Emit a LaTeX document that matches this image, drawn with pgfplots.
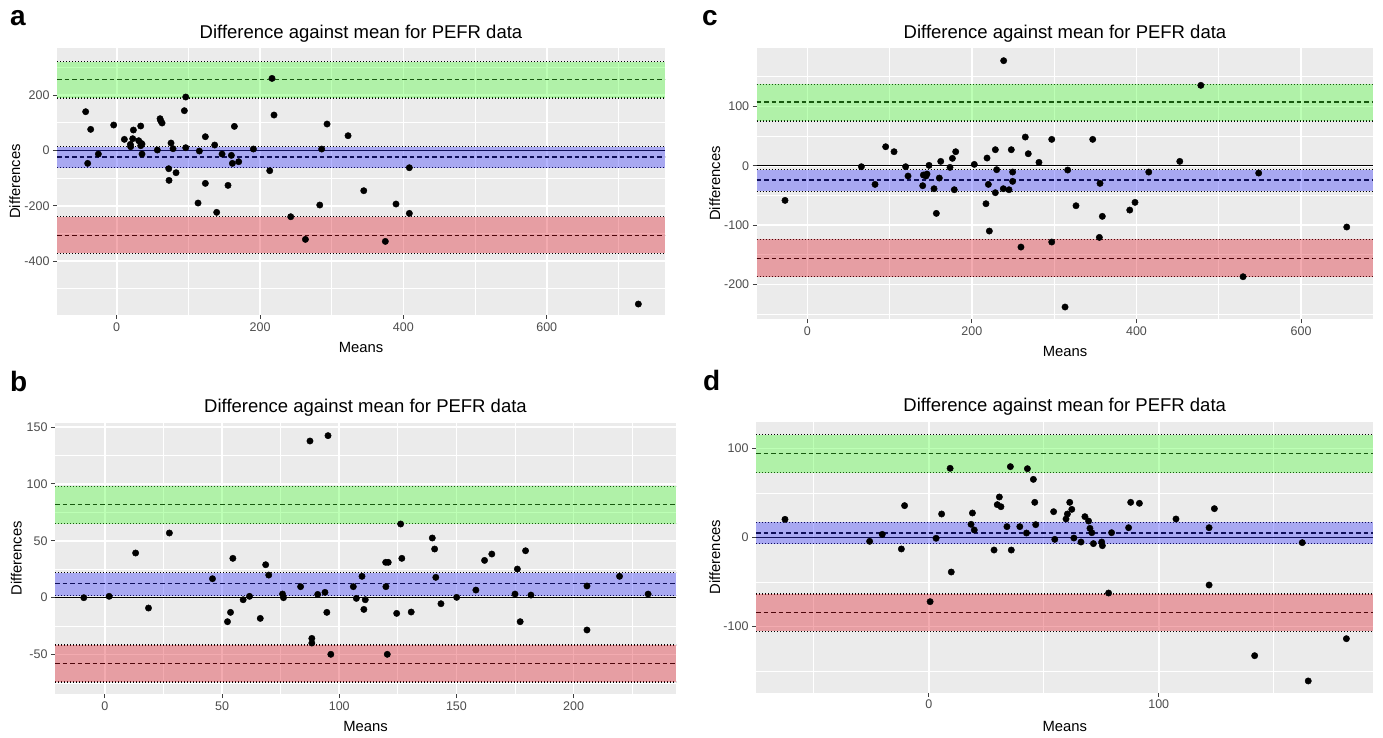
\documentclass[border=0pt]{standalone}
\usepackage{fontspec}
\setmainfont{Liberation Sans}
\usepackage{pgfplots}
\pgfplotsset{compat=1.18}

\definecolor{ggbg}{HTML}{EBEBEB}
\definecolor{ggtick}{HTML}{4D4D4D}
\definecolor{bandgreen}{RGB}{66,255,44}
\definecolor{bandblue}{RGB}{44,44,255}
\definecolor{bandred}{RGB}{221,15,29}

\pgfplotsset{
  gg/.style={
    scale only axis,
    axis background/.style={fill=ggbg},
    axis x line*=bottom, axis y line*=left,
    axis line style={draw=none},
    tick align=outside,
    major tick length=4pt, minor tick length=0pt,
    tick style={black!75, line width=1pt},
    grid=both,
    major grid style={white, line width=1.6pt},
    minor grid style={white, line width=0.8pt},
    ticklabel style={font=\fontsize{12.5}{14}\selectfont, text=ggtick},
  },
  band/.style={draw=none, fill=#1, fill opacity=0.35},
  mean/.style={black, line width=1.15pt, dash pattern=on 4.5pt off 3pt},
  lim/.style={black, line width=1.3pt, dash pattern=on 1.2pt off 1.8pt},
  zero/.style={black, line width=1pt},
  pts/.style={only marks, mark=*, mark size=3.2pt, black},
}

\newcommand{\titlefont}{\fontsize{18.5}{20}\selectfont}
\newcommand{\labfont}{\fontsize{14.8}{16}\selectfont}
\newcommand{\letfont}{\fontsize{28}{30}\selectfont\bfseries}

\begin{document}
\begin{tikzpicture}
\path (0pt,0pt) rectangle (1383pt,737pt);

% ---- a ----
\begin{axis}[gg, at={(57pt,422pt)}, anchor=south west, width=608pt, height=267pt,
  xmin=-83.3, xmax=765, ymin=-595, ymax=370,
  xtick={0,200,400,600}, xticklabels={0,200,400,600}, minor xtick={100,300,500,700},
  ytick={-400,-200,0,200}, yticklabels={-400,-200,0,200}, minor ytick={-500,-300,-100,100,300}]
\addplot[pts] table {
-43.3 139.8
-40.5 -47
-36.3 75.9
-25.6 -13.3
-4.2 91.6
10.7 39.8
19.1 21.7
19.5 13.3
23.3 73.5
22.3 42.2
30.7 34.9
33.5 88
34 25.3
35.3 22.9
33.5 16.9
35.3 -13.3
56.7 1.2
60.5 114.5
61.4 107
63.3 98.8
72.6 -66.3
73 -108.4
75.8 26.5
78.6 6
82.8 -80.7
94.4 143.4
96.3 192.8
96.3 9.6
113.5 -190.4
115.3 -2.4
123.7 49.4
123.7 -119.3
136.7 19.3
139.5 -224
147 -13.3
155.3 -126.5
160 -18
161.4 -47
164.2 86.7
170.2 -41
190.7 4.8
213.5 -73.5
216.7 260
219.5 127.7
242.8 -239.8
263.3 -321.7
283.3 -197.6
286 4.8
293.5 95.2
322.8 53
344.7 -145.8
408.3 -62.7
389.7 -194
408.3 -227.7
374.8 -329
727.8 -555.4
};
\addplot[zero] coordinates {(-83.3,0) (765,0)};
\addplot[mean] coordinates {(-83.3,256.6) (765,256.6)};
\addplot[lim] coordinates {(-83.3,189) (765,189)};
\addplot[lim] coordinates {(-83.3,320) (765,320)};
\addplot[mean] coordinates {(-83.3,-24) (765,-24)};
\addplot[lim] coordinates {(-83.3,-63) (765,-63)};
\addplot[lim] coordinates {(-83.3,13) (765,13)};
\addplot[mean] coordinates {(-83.3,-307) (765,-307)};
\addplot[lim] coordinates {(-83.3,-372) (765,-372)};
\addplot[lim] coordinates {(-83.3,-240) (765,-240)};
\addplot[band=bandgreen] coordinates {(-83.3,189) (765,189) (765,320) (-83.3,320)} -- cycle;
\addplot[band=bandblue] coordinates {(-83.3,-63) (765,-63) (765,13) (-83.3,13)} -- cycle;
\addplot[band=bandred] coordinates {(-83.3,-372) (765,-372) (765,-240) (-83.3,-240)} -- cycle;
\end{axis}

% ---- c ----
\begin{axis}[gg, at={(756.7pt,417.7pt)}, anchor=south west, width=616.6pt, height=271.6pt,
  xmin=-61.5, xmax=687.8, ymin=-259, ymax=199,
  xtick={0,200,400,600}, xticklabels={0,200,400,600}, minor xtick={100,300,500},
  ytick={-200,-100,0,100}, yticklabels={-200,-100,0,100}, minor ytick={-250,-150,-50,50,150}]
\addplot[pts] table {
-27.1 -58.5
65.7 -1.7
82.3 -31.5
95.2 32
105.4 23.6
119.5 -1.7
122.4 -17.4
140.2 -33.7
141 -15.7
145.4 -14
144.2 -17.4
147.9 0.6
154 -38.8
156.8 -80.4
160.4 -20.8
162.1 7.3
173.4 -2.8
176.3 12.4
178.6 -40.5
180.3 23.6
202.9 2.2
217.1 -64.1
218.4 12.9
220 -31.5
221.2 -110.2
228.5 27
228.5 -45.5
230.1 -6.7
238.6 177.1
238.2 -38.8
245.1 -40.5
247.9 27
249.5 -26.4
249.5 -10.7
259.6 -137.2
264.9 48.3
268.5 20.2
281.5 5.6
297 44.4
297 -128.7
316.4 -7.3
313.2 -238.3
326.5 -67.5
346.8 44.4
355.7 -29.8
354.9 -120.9
358.5 -85.4
391.8 -74.8
398.2 -61.8
414.9 -10.7
452.6 7.3
478.2 135.5
529.5 -187.2
548.5 -12.4
655.5 -103.4
};
\addplot[zero] coordinates {(-61.5,0) (687.8,0)};
\addplot[mean] coordinates {(-61.5,107.4) (687.8,107.4)};
\addplot[lim] coordinates {(-61.5,75.4) (687.8,75.4)};
\addplot[lim] coordinates {(-61.5,137.3) (687.8,137.3)};
\addplot[mean] coordinates {(-61.5,-24.1) (687.8,-24.1)};
\addplot[lim] coordinates {(-61.5,-43.2) (687.8,-43.2)};
\addplot[lim] coordinates {(-61.5,-6.7) (687.8,-6.7)};
\addplot[mean] coordinates {(-61.5,-156.2) (687.8,-156.2)};
\addplot[lim] coordinates {(-61.5,-187.2) (687.8,-187.2)};
\addplot[lim] coordinates {(-61.5,-124.1) (687.8,-124.1)};
\addplot[band=bandgreen] coordinates {(-61.5,75.4) (687.8,75.4) (687.8,137.3) (-61.5,137.3)} -- cycle;
\addplot[band=bandblue] coordinates {(-61.5,-43.2) (687.8,-43.2) (687.8,-6.7) (-61.5,-6.7)} -- cycle;
\addplot[band=bandred] coordinates {(-61.5,-187.2) (687.8,-187.2) (687.8,-124.1) (-61.5,-124.1)} -- cycle;
\end{axis}

% ---- b ----
\begin{axis}[gg, at={(55pt,43pt)}, anchor=south west, width=621pt, height=271.3pt,
  xmin=-21.3, xmax=243.7, ymin=-84.7, ymax=153.9,
  xtick={0,50,100,150,200}, xticklabels={0,50,100,150,200}, minor xtick={25,75,125,175,225},
  ytick={-50,0,50,100,150}, yticklabels={-50,0,50,100,150}, minor ytick={-75,-25,25,75,125}]
\addplot[pts] table {
-9 0
1.8 1.2
13.1 39.3
18.6 -9.1
27.5 56.9
45.9 16.7
52.3 -21.1
53.6 -12.9
54.6 34.6
59 -1.8
61.7 1.2
66.3 -18.2
68.6 29
69.9 19.9
75.8 3.2
76.2 0
83.5 9.7
87.5 137.8
88.3 -35.8
88.3 -39.9
90.8 2.9
93.9 4.7
95.2 142.5
94.7 -12.9
96.4 -49.8
106 9.7
107.3 -0.6
109.7 18.8
110.5 -10.3
111.1 -1.8
119.8 31.1
120.9 31.1
119.9 9.7
120.5 -49.8
124.5 -13.8
126.2 64.8
126.7 34.6
130.7 -12.6
139.7 52.5
140.7 42.8
141.2 17.9
143.4 -5.3
150.1 0.3
158.3 6.7
162 32.8
165.1 38.4
175 3.2
176 25.2
177.2 -21.1
179.5 41.3
181.8 2.3
205.7 10.3
205.7 -28.4
219.6 18.8
231.8 3.2
};
\addplot[zero] coordinates {(-21.3,0) (243.7,0)};
\addplot[mean] coordinates {(-21.3,82.1) (243.7,82.1)};
\addplot[lim] coordinates {(-21.3,65.1) (243.7,65.1)};
\addplot[lim] coordinates {(-21.3,97.9) (243.7,97.9)};
\addplot[mean] coordinates {(-21.3,12.3) (243.7,12.3)};
\addplot[lim] coordinates {(-21.3,1.8) (243.7,1.8)};
\addplot[lim] coordinates {(-21.3,22) (243.7,22)};
\addplot[mean] coordinates {(-21.3,-57.5) (243.7,-57.5)};
\addplot[lim] coordinates {(-21.3,-74.2) (243.7,-74.2)};
\addplot[lim] coordinates {(-21.3,-41.6) (243.7,-41.6)};
\addplot[band=bandgreen] coordinates {(-21.3,65.1) (243.7,65.1) (243.7,97.9) (-21.3,97.9)} -- cycle;
\addplot[band=bandblue] coordinates {(-21.3,1.8) (243.7,1.8) (243.7,22) (-21.3,22)} -- cycle;
\addplot[band=bandred] coordinates {(-21.3,-74.2) (243.7,-74.2) (243.7,-41.6) (-21.3,-41.6)} -- cycle;
\end{axis}

% ---- d ----
\begin{axis}[gg, at={(756pt,44.3pt)}, anchor=south west, width=617.3pt, height=271pt,
  xmin=-75.1, xmax=193.3, ymin=-174.2, ymax=130.3,
  xtick={0,100}, xticklabels={0,100}, minor xtick={-50,50,150},
  ytick={-100,0,100}, yticklabels={-100,0,100}, minor ytick={-150,-50,50}]
\addplot[pts] table {
-62.5 20.6
-25.7 -4.1
-20.2 3.7
-11.9 -12.7
-10.5 36
0.6 -71.9
3.2 -0.7
5.6 26.6
9.3 77.9
9.8 -38.6
18.4 15
19 27.7
19.8 8.6
28.4 -13.9
29.8 37.1
30.7 45.7
31.4 34.8
34 12.4
35.5 79.8
35.9 -13.9
39.6 12.4
42.5 5.2
42.9 77.5
45.5 65.5
46.1 39.7
46.5 14.6
54.3 29.2
54.8 -1.9
59.7 21
60.3 26.6
61.3 39.7
62.2 31.8
63.1 -0.4
66.2 -4.9
67.9 23.6
69.5 18.7
70.1 10.5
70.9 5.6
71.6 -6.7
75.2 -4.9
75.5 -9
78.2 -62.2
79.5 5.6
86.9 11.2
87.8 39.7
91.6 38.6
107.5 21
121.9 11.2
121.9 -53.2
124.2 32.6
141.7 -132.6
162.4 -5.6
165 -161
181.6 -113.5
};
\addplot[zero] coordinates {(-75.1,0) (193.3,0)};
\addplot[mean] coordinates {(-75.1,94.4) (193.3,94.4)};
\addplot[lim] coordinates {(-75.1,73) (193.3,73)};
\addplot[lim] coordinates {(-75.1,115.7) (193.3,115.7)};
\addplot[mean] coordinates {(-75.1,5.2) (193.3,5.2)};
\addplot[lim] coordinates {(-75.1,-6.7) (193.3,-6.7)};
\addplot[lim] coordinates {(-75.1,17.2) (193.3,17.2)};
\addplot[mean] coordinates {(-75.1,-83.9) (193.3,-83.9)};
\addplot[lim] coordinates {(-75.1,-105.2) (193.3,-105.2)};
\addplot[lim] coordinates {(-75.1,-63.3) (193.3,-63.3)};
\addplot[band=bandgreen] coordinates {(-75.1,73) (193.3,73) (193.3,115.7) (-75.1,115.7)} -- cycle;
\addplot[band=bandblue] coordinates {(-75.1,-6.7) (193.3,-6.7) (193.3,17.2) (-75.1,17.2)} -- cycle;
\addplot[band=bandred] coordinates {(-75.1,-105.2) (193.3,-105.2) (193.3,-63.3) (-75.1,-63.3)} -- cycle;
\end{axis}

% titles and labels
\node[anchor=base, inner sep=0pt, font=\titlefont] at (361pt,698.7pt) {Difference against mean for PEFR data};
\node[anchor=base, inner sep=0pt, font=\titlefont] at (1065pt,698.7pt) {Difference against mean for PEFR data};
\node[anchor=base, inner sep=0pt, font=\titlefont] at (365.5pt,325pt) {Difference against mean for PEFR data};
\node[anchor=base, inner sep=0pt, font=\titlefont] at (1064.7pt,325.3pt) {Difference against mean for PEFR data};
\node[anchor=base, inner sep=0pt, font=\labfont] at (361pt,384pt) {Means};
\node[anchor=base, inner sep=0pt, font=\labfont] at (1065pt,380.3pt) {Means};
\node[anchor=base, inner sep=0pt, font=\labfont] at (365.5pt,5.3pt) {Means};
\node[anchor=base, inner sep=0pt, font=\labfont] at (1064.7pt,5.3pt) {Means};
\node[anchor=base, rotate=90, inner sep=0pt, font=\labfont] at (20pt,555.5pt) {Differences};
\node[anchor=base, rotate=90, inner sep=0pt, font=\labfont] at (720pt,553.5pt) {Differences};
\node[anchor=base, rotate=90, inner sep=0pt, font=\labfont] at (21.7pt,178.7pt) {Differences};
\node[anchor=base, rotate=90, inner sep=0pt, font=\labfont] at (720pt,179.8pt) {Differences};
\node[anchor=base west, inner sep=0pt, font=\letfont] at (10pt,711pt) {a};
\node[anchor=base west, inner sep=0pt, font=\letfont] at (702pt,711pt) {c};
\node[anchor=base west, inner sep=0pt, font=\letfont] at (10pt,345.3pt) {b};
\node[anchor=base west, inner sep=0pt, font=\letfont] at (703pt,346.3pt) {d};
\end{tikzpicture}
\end{document}
